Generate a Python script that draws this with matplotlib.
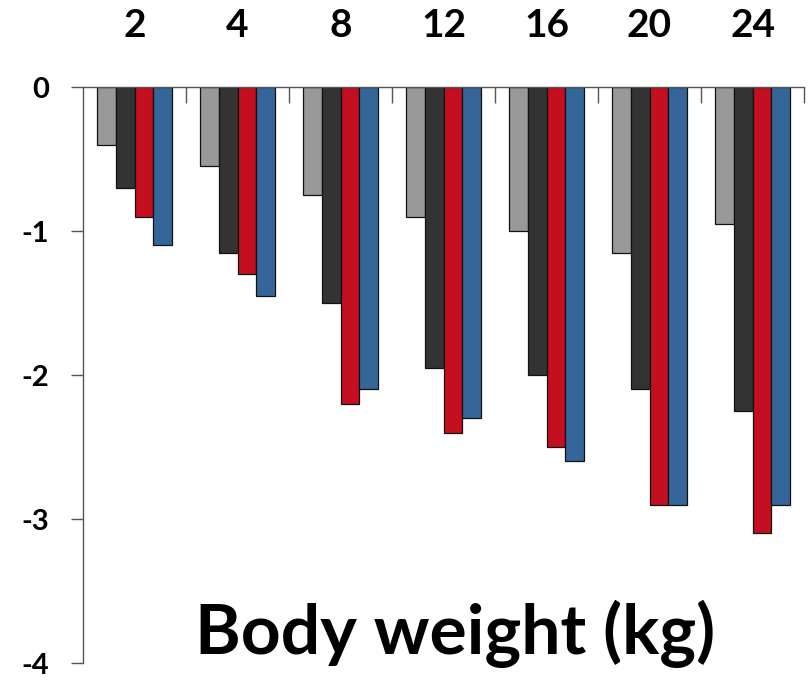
import matplotlib
matplotlib.use("Agg")
import matplotlib.pyplot as plt
import numpy as np

categories = ["2", "4", "8", "12", "16", "20", "24"]
series_gray = [-0.40, -0.55, -0.75, -0.90, -1.00, -1.15, -0.95]
series_dark = [-0.70, -1.15, -1.50, -1.95, -2.00, -2.10, -2.25]
series_red = [-0.90, -1.30, -2.20, -2.40, -2.50, -2.90, -3.10]
series_blue = [-1.10, -1.45, -2.10, -2.30, -2.60, -2.90, -2.90]
yticks = [0, -1, -2, -3, -4]
xlabel = "Body weight (kg)"

plt.rcParams['font.family'] = ['Lato', 'DejaVu Sans']

W, H = 811, 681
fig = plt.figure(figsize=(W / 100, H / 100), dpi=100)
ax = fig.add_axes([83 / W, 18 / H, 721 / W, 576 / H])

x = np.arange(len(categories))
bw = 0.181
colors = ["#999999", "#333333", "#C40F20", "#346699"]
allser = [series_gray, series_dark, series_red, series_blue]
for i, (s, c) in enumerate(zip(allser, colors)):
    ax.bar(x + (i - 1.5) * bw, s, width=bw, color=c, edgecolor="#111111", linewidth=0.9, zorder=2)

ax.set_xlim(-0.5, len(categories) - 0.5)
ax.set_ylim(-4, 0)

for sp in ["right", "bottom"]:
    ax.spines[sp].set_visible(False)
for sp in ["top", "left"]:
    ax.spines[sp].set_color("#555555")
    ax.spines[sp].set_linewidth(1.0)
    ax.spines[sp].set_zorder(3)

ax.xaxis.set_ticks_position("top")
ax.set_xticks(x)
ax.set_xticklabels(categories, fontsize=28, fontweight="bold")
ax.tick_params(axis="x", which="major", length=0, pad=32)
ax.set_xticks(np.arange(len(categories)) + 0.5, minor=True)
ax.tick_params(axis="x", which="minor", direction="in", length=11.5, width=1.0, color="#555555", top=True)

ax.set_yticks(yticks)
ax.set_yticklabels([str(v) for v in yticks], fontsize=21, fontweight="bold")
ax.tick_params(axis="y", direction="out", length=8.5, width=1.0, color="#555555", pad=16)

fig.text(455 / W, 1 - 634 / H, xlabel, fontsize=50, fontweight="bold", ha="center", va="center")

fig.savefig("out.png", dpi=100)
